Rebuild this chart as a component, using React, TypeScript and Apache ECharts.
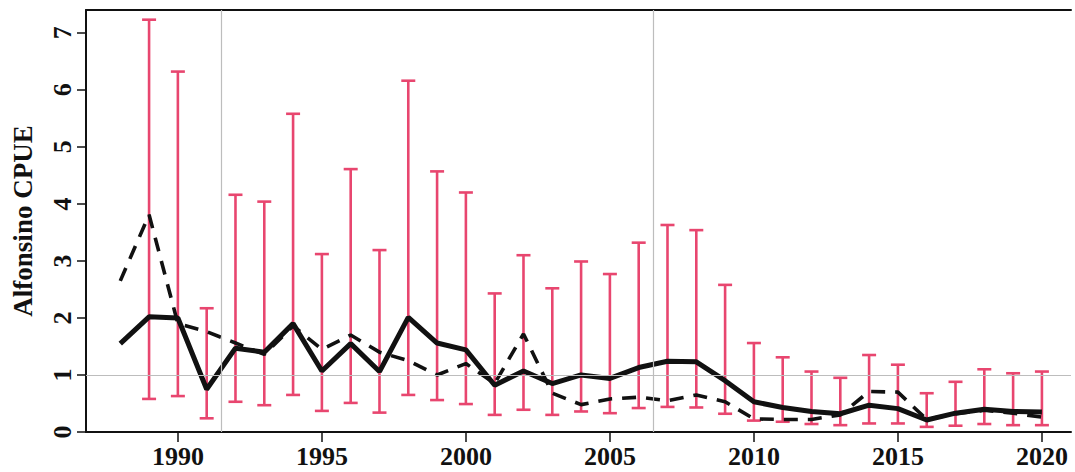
import React, { useEffect, useRef } from "react";
import * as echarts from "echarts";

const years = [1988, 1989, 1990, 1991, 1992, 1993, 1994, 1995, 1996, 1997, 1998, 1999, 2000, 2001, 2002, 2003, 2004, 2005, 2006, 2007, 2008, 2009, 2010, 2011, 2012, 2013, 2014, 2015, 2016, 2017, 2018, 2019, 2020];
const solidCpue = [1.55, 2.02, 2.0, 0.75, 1.47, 1.4, 1.9, 1.07, 1.55, 1.06, 2.01, 1.56, 1.44, 0.82, 1.07, 0.85, 1.0, 0.94, 1.13, 1.24, 1.23, 0.9, 0.53, 0.43, 0.36, 0.32, 0.47, 0.41, 0.21, 0.33, 0.4, 0.36, 0.35];
const dashedCpue = [2.65, 3.81, 1.9, 1.76, 1.56, 1.36, 1.86, 1.45, 1.7, 1.4, 1.25, 1.0, 1.2, 0.85, 1.72, 0.68, 0.48, 0.58, 0.61, 0.55, 0.65, 0.53, 0.23, 0.22, 0.22, 0.3, 0.71, 0.7, 0.22, 0.32, 0.38, 0.33, 0.26];

const barYears = [1989, 1990, 1991, 1992, 1993, 1994, 1995, 1996, 1997, 1998, 1999, 2000, 2001, 2002, 2003, 2004, 2005, 2006, 2007, 2008, 2009, 2010, 2011, 2012, 2013, 2014, 2015, 2016, 2017, 2018, 2019, 2020];
const barHigh = [7.23, 6.32, 2.17, 4.16, 4.04, 5.58, 3.12, 4.61, 3.19, 6.16, 4.57, 4.2, 2.43, 3.1, 2.52, 2.99, 2.77, 3.32, 3.63, 3.54, 2.58, 1.56, 1.31, 1.06, 0.95, 1.35, 1.18, 0.68, 0.88, 1.1, 1.03, 1.06];
const barLow = [0.58, 0.63, 0.24, 0.53, 0.47, 0.65, 0.37, 0.51, 0.34, 0.65, 0.56, 0.49, 0.3, 0.39, 0.3, 0.36, 0.33, 0.42, 0.44, 0.43, 0.32, 0.2, 0.18, 0.14, 0.12, 0.15, 0.15, 0.09, 0.11, 0.14, 0.12, 0.12];

const xTickLabels = [1990, 1995, 2000, 2005, 2010, 2015, 2020];
const refYears = [1991.5, 2006.5];
const refLevel = 1;

const BAR_COLOR = "#E8466F";
const FONT = "'Liberation Serif', 'Times New Roman', serif";

export default function App() {
  const ref = useRef<HTMLDivElement>(null);

  useEffect(() => {
    if (!ref.current) return;
    const chart = echarts.init(ref.current, null, { renderer: "svg" });
    const xMin = 1986.81;
    const xMax = 2021.01;

    const option: any = {
      animation: false,
      backgroundColor: "#ffffff",
      grid: { left: 86, right: 4, top: 10, bottom: 40, containLabel: false },
      xAxis: [
        {
          type: "value",
          min: xMin,
          max: xMax,
          position: "bottom",
          axisLine: { show: true, onZero: false, lineStyle: { color: "#111", width: 2 } },
          axisTick: { show: true, length: 10, customValues: xTickLabels, lineStyle: { color: "#111", width: 1.5 } },
          axisLabel: {
            show: true,
            customValues: xTickLabels,
            margin: 11,
            fontFamily: FONT,
            fontWeight: "bold",
            fontSize: 26,
            color: "#111",
            formatter: (v: number) => String(Math.round(v)),
          },
          splitLine: { show: false },
        },
        {
          type: "value",
          min: xMin,
          max: xMax,
          position: "top",
          axisLine: { show: true, onZero: false, lineStyle: { color: "#111", width: 2 } },
          axisTick: { show: false },
          axisLabel: { show: false },
          splitLine: { show: false },
        },
      ],
      yAxis: {
        type: "value",
        min: 0,
        max: 7.4,
        interval: 1,
        name: "Alfonsino CPUE",
        nameLocation: "middle",
        nameRotate: 90,
        nameGap: 50,
        nameTextStyle: { fontFamily: FONT, fontWeight: "bold", fontSize: 27, color: "#111" },
        axisLine: { show: true, onZero: false, lineStyle: { color: "#111", width: 2 } },
        axisTick: { show: true, length: 9, lineStyle: { color: "#111", width: 1.5 } },
        axisLabel: {
          rotate: 90,
          margin: 11,
          fontFamily: FONT,
          fontWeight: "bold",
          fontSize: 26,
          color: "#111",
          showMaxLabel: false,
        },
        splitLine: { show: false },
      },
      series: [
        {
          type: "line",
          name: "ref",
          z: 1,
          data: years.map((y, i) => [y, solidCpue[i]]),
          showSymbol: false,
          lineStyle: { opacity: 0, width: 0 },
          silent: true,
          markLine: {
            silent: true,
            symbol: "none",
            label: { show: false },
            lineStyle: { color: "#BDBDBD", width: 1.2, type: "solid" },
            data: [
              ...refYears.map((x) => ({ xAxis: x })),
              { yAxis: refLevel },
            ],
          },
        },
        {
          type: "custom",
          name: "CI",
          z: 2,
          data: barYears.map((y, i) => [y, barLow[i], barHigh[i]]),
          encode: { x: 0, y: [1, 2] },
          renderItem: (params: any, api: any) => {
            const x = api.value(0);
            const lo = api.coord([x, api.value(1)]);
            const hi = api.coord([x, api.value(2)]);
            const w = 7;
            const style = { stroke: BAR_COLOR, lineWidth: 2.6 };
            return {
              type: "group",
              children: [
                { type: "line", shape: { x1: lo[0], y1: lo[1], x2: hi[0], y2: hi[1] }, style },
                { type: "line", shape: { x1: lo[0] - w, y1: lo[1], x2: lo[0] + w, y2: lo[1] }, style },
                { type: "line", shape: { x1: hi[0] - w, y1: hi[1], x2: hi[0] + w, y2: hi[1] }, style },
              ],
            };
          },
        },
        {
          type: "line",
          name: "dashed",
          z: 3,
          data: years.map((y, i) => [y, dashedCpue[i]]),
          showSymbol: false,
          symbol: "none",
          lineStyle: { color: "#111", width: 3.6, type: [14, 10] },
        },
        {
          type: "line",
          name: "solid",
          z: 4,
          data: years.map((y, i) => [y, solidCpue[i]]),
          showSymbol: false,
          symbol: "none",
          lineStyle: { color: "#111", width: 5 },
        },
      ],
    };
    chart.setOption(option);
    return () => chart.dispose();
  }, []);

  return (
    <div
      ref={ref}
      style={{ position: "fixed", left: 0, top: 0, width: 1075, height: 472, background: "#fff" }}
    />
  );
}
